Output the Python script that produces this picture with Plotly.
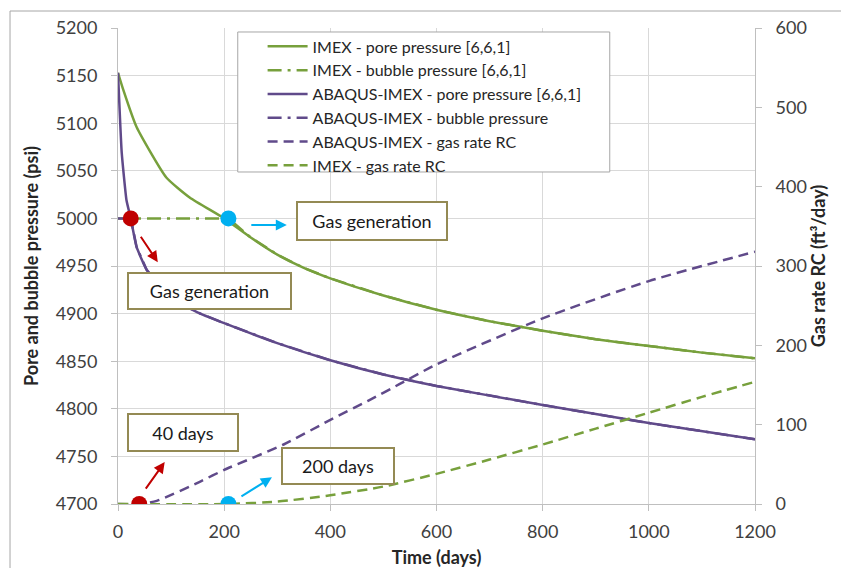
import plotly.graph_objects as go

# ---------------- data ----------------
imex_pore_days = [0, 10, 35, 91, 135, 200, 250, 300, 350, 400, 500, 600, 700, 800, 900, 1000, 1100, 1200]
imex_pore_psi = [5153, 5135, 5096, 5043, 5022, 5000, 4980, 4962, 4948, 4937, 4919, 4904, 4892, 4882, 4873, 4866, 4859, 4853]

imex_bubble_days = [0, 208, 250, 300, 350, 400, 500, 600, 700, 800, 900, 1000, 1100, 1200]
imex_bubble_psi = [5000, 5000, 4980, 4962, 4948, 4937, 4919, 4904, 4892, 4882, 4873, 4866, 4859, 4853]

abq_pore_days = [0, 7, 16, 24, 35, 54, 100, 155, 200, 300, 400, 500, 600, 800, 1000, 1200]
abq_pore_psi = [5153, 5069, 5019, 5000, 4970, 4946, 4916, 4900, 4890, 4869, 4851, 4836, 4824, 4804, 4785, 4768]

abq_bubble_days = [0, 24, 35, 54, 100, 155, 200, 300, 400, 500, 600, 800, 1000, 1200]
abq_bubble_psi = [5000, 5000, 4970, 4946, 4916, 4900, 4890, 4869, 4851, 4836, 4824, 4804, 4785, 4768]

abq_rate_days = [0, 40, 73, 154, 200, 312, 400, 471, 530, 600, 800, 1000, 1200]
abq_rate = [0, 0, 4, 28, 43, 75, 106, 130, 151, 176, 234, 281, 318]

imex_rate_days = [0, 208, 300, 400, 500, 600, 700, 800, 900, 1000, 1100, 1200]
imex_rate = [0, 0, 3, 11, 22, 38, 56, 75, 95, 115, 135, 154]

# onset markers: (day, value)
red_p_day, red_p_psi = [24], [5000]
blue_p_day, blue_p_psi = [208], [5000]
red_r_day, red_r_val = [40], [0]
blue_r_day, blue_r_val = [208], [0]

GREEN = "#77A03C"
PURPLE = "#604A8A"
RED = "#C00000"
BLUE = "#00B0F0"
BOXC = "#948A54"
FONT = "Lato"

fig = go.Figure()

# bubble lines (drawn first, under pore lines)
fig.add_trace(go.Scatter(x=imex_bubble_days, y=imex_bubble_psi, mode="lines",
                         name="IMEX - bubble pressure [6,6,1]", legendrank=2,
                         line=dict(color=GREEN, width=2.5, dash="14px,6px,3px,6px")))
fig.add_trace(go.Scatter(x=abq_bubble_days, y=abq_bubble_psi, mode="lines",
                         name="ABAQUS-IMEX - bubble pressure", legendrank=4,
                         line=dict(color=PURPLE, width=2.5, dash="14px,6px,3px,6px")))
fig.add_trace(go.Scatter(x=imex_pore_days, y=imex_pore_psi, mode="lines",
                         name="IMEX - pore pressure [6,6,1]", legendrank=1,
                         line=dict(color=GREEN, width=2.5, shape="spline", smoothing=0.5)))
fig.add_trace(go.Scatter(x=abq_pore_days, y=abq_pore_psi, mode="lines",
                         name="ABAQUS-IMEX - pore pressure [6,6,1]", legendrank=3,
                         line=dict(color=PURPLE, width=2.5, shape="spline", smoothing=0.4)))
fig.add_trace(go.Scatter(x=abq_rate_days, y=abq_rate, mode="lines", yaxis="y2",
                         name="ABAQUS-IMEX - gas rate RC", legendrank=5,
                         line=dict(color=PURPLE, width=2.5, dash="10px,6px", shape="spline", smoothing=0.6)))
fig.add_trace(go.Scatter(x=imex_rate_days, y=imex_rate, mode="lines", yaxis="y2",
                         name="IMEX - gas rate RC", legendrank=6,
                         line=dict(color=GREEN, width=2.5, dash="10px,6px", shape="spline", smoothing=0.6)))

# onset dots
fig.add_trace(go.Scatter(x=red_p_day, y=red_p_psi, mode="markers", showlegend=False,
                         marker=dict(color=RED, size=16)))
fig.add_trace(go.Scatter(x=blue_p_day, y=blue_p_psi, mode="markers", showlegend=False,
                         marker=dict(color=BLUE, size=16)))
fig.add_trace(go.Scatter(x=red_r_day, y=red_r_val, mode="markers", showlegend=False, yaxis="y2",
                         marker=dict(color=RED, size=16)))
fig.add_trace(go.Scatter(x=blue_r_day, y=blue_r_val, mode="markers", showlegend=False, yaxis="y2",
                         marker=dict(color=BLUE, size=16)))

tickfont = dict(family=FONT, size=18, color="#404040")
titlefont = dict(family=FONT, size=18, color="#262626", weight="bold")

fig.update_layout(
    width=841, height=568,
    margin=dict(l=118, r=86, t=28, b=64),
    paper_bgcolor="white", plot_bgcolor="white",
    font=dict(family=FONT),
    hovermode=False,
    xaxis=dict(range=[0, 1200], dtick=200, tick0=0, showgrid=True, gridcolor="#D9D9D9",
               showline=True, linecolor="#BFBFBF", ticks="outside", ticklen=6, tickcolor="#BFBFBF",
               tickfont=tickfont, zeroline=False, ticklabelstandoff=5, automargin=False,
               title=dict(text="Time (days)", font=titlefont, standoff=14)),
    yaxis=dict(range=[4700, 5200], dtick=50, tick0=4700, showgrid=True, gridcolor="#D9D9D9",
               showline=True, linecolor="#BFBFBF", ticks="outside", ticklen=6, tickcolor="#BFBFBF",
               tickfont=tickfont, zeroline=False, ticklabelstandoff=10, automargin=False,
               title=dict(text="Pore and bubble pressure (psi)", font=titlefont, standoff=12)),
    yaxis2=dict(range=[0, 600], dtick=100, tick0=0, overlaying="y", side="right", showgrid=False,
                showline=True, linecolor="#BFBFBF", ticks="outside", ticklen=6, tickcolor="#BFBFBF",
                tickfont=tickfont, zeroline=False, ticklabelstandoff=10, automargin=False,
                title=dict(text="Gas rate RC (ft³/day)", font=titlefont, standoff=6)),
    legend=dict(x=0.188 + 0.039, y=0.997, xanchor="left", yanchor="top",
                bgcolor="rgba(0,0,0,0)", borderwidth=0,
                font=dict(family=FONT, size=16, color="#262626"),
                itemwidth=40, tracegroupgap=0),
    showlegend=True,
)

# outer chart border and legend box
fig.add_shape(type="rect", xref="paper", yref="paper", x0=-0.1695, x1=1.3, y0=-0.5, y1=1.0357,
              line=dict(color="#A6A6A6", width=1), fillcolor="rgba(0,0,0,0)", layer="above")
fig.add_shape(type="rect", xref="paper", yref="paper", x0=0.188, x1=0.772, y0=0.6975, y1=0.9916,
              line=dict(color="#A6A6A6", width=1), fillcolor="white", layer="above")

# text boxes
boxes = [
    ("Gas generation", 478, 4997, 146, 34),
    ("Gas generation", 173, 4924, 159, 32),
    ("40 days", 122, 4775, 106, 33),
    ("200 days", 414, 4740, 108, 32),
]
for txt, bx, by, w, h in boxes:
    fig.add_annotation(x=bx, y=by, xref="x", yref="y", text=txt, showarrow=False,
                       font=dict(family=FONT, size=18, color="#1a1a1a"),
                       bgcolor="white", bordercolor=BOXC, borderwidth=2, borderpad=1,
                       width=w, height=h, align="center", valign="middle")

# arrows
arrows = [
    (75, 4954, -18, -27, RED),
    (318, 4993, -37, 0, BLUE),
    (88, 4744, -20, 28, RED),
    (290, 4728, -32, 20, BLUE),
]
for axx, ayy, dx, dy, col in arrows:
    fig.add_annotation(x=axx, y=ayy, xref="x", yref="y", ax=dx, ay=dy, text="",
                       showarrow=True, arrowhead=2, arrowsize=1.1, arrowwidth=2,
                       arrowcolor=col, standoff=0)

fig.write_html("out.html")
